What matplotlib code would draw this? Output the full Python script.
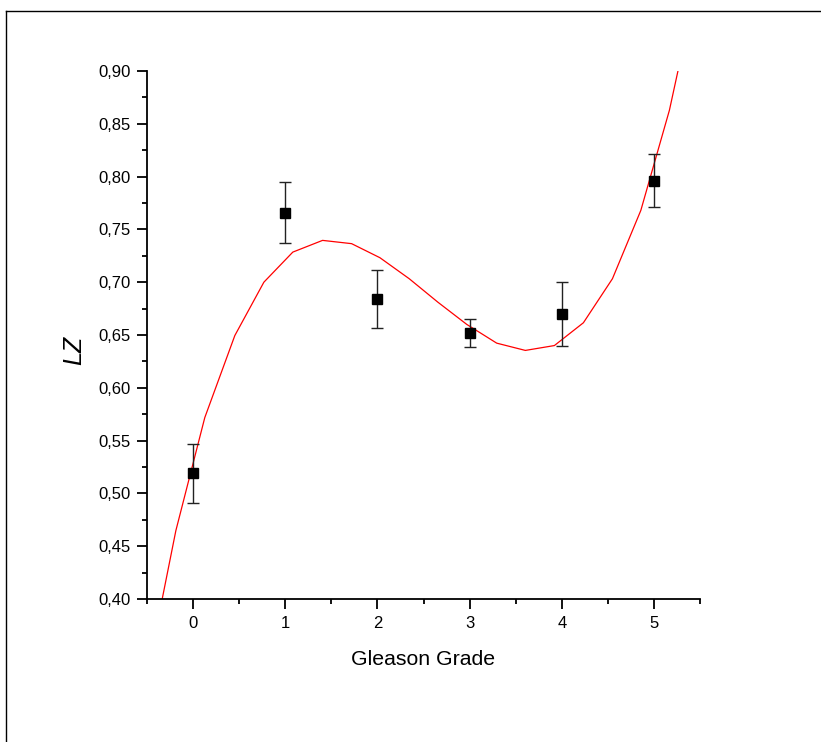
import matplotlib
matplotlib.use("Agg")
import matplotlib.pyplot as plt
from matplotlib.lines import Line2D
from matplotlib.ticker import MultipleLocator, FixedLocator

plt.rcParams['font.family'] = ['Liberation Sans', 'DejaVu Sans']

# Measured data points (Gleason grade vs LZ)
grade = [0, 1, 2, 3, 4, 5]
lz = [0.519, 0.766, 0.684, 0.652, 0.670, 0.796]
lz_err = [0.028, 0.029, 0.0275, 0.013, 0.030, 0.025]

# Fitted curve vertices
fit_x = [-0.5, -0.187, 0.127, 0.453, 0.768, 1.082, 1.405, 1.72, 2.027, 2.345,
         2.657, 2.97, 3.294, 3.605, 3.92, 4.235, 4.55, 4.858, 5.168, 5.485]
fit_y = [0.328, 0.4647, 0.5718, 0.6495, 0.700, 0.7285, 0.7396, 0.7365, 0.7232, 0.7033,
         0.681, 0.660, 0.6423, 0.6354, 0.640, 0.6616, 0.7033, 0.768, 0.8628, 0.99]

xticks = [0, 1, 2, 3, 4, 5]
yticks = [0.40, 0.45, 0.50, 0.55, 0.60, 0.65, 0.70, 0.75, 0.80, 0.85, 0.90]
ytick_labels = ['0,40', '0,45', '0,50', '0,55', '0,60', '0,65', '0,70', '0,75', '0,80', '0,85', '0,90']

fig = plt.figure(figsize=(8.21, 7.42), dpi=100)
ax = fig.add_axes([147/821, 143/742, 553/821, 528/742])

ax.plot(fit_x, fit_y, color='red', lw=0.9, zorder=2)
ax.errorbar(grade, lz, yerr=lz_err, fmt='s', color='black', ms=7, ecolor='#222222',
            elinewidth=1.0, capsize=4.5, capthick=1.0, zorder=3)

ax.set_xlim(-0.5, 5.5)
ax.set_ylim(0.40, 0.90)
ax.xaxis.set_major_locator(FixedLocator(xticks))
ax.xaxis.set_minor_locator(MultipleLocator(0.5))
ax.yaxis.set_major_locator(FixedLocator(yticks))
ax.set_yticklabels(ytick_labels)
ax.yaxis.set_minor_locator(MultipleLocator(0.025))

for s in ['top', 'right']:
    ax.spines[s].set_visible(False)
for s in ['left', 'bottom']:
    ax.spines[s].set_linewidth(1.3)

ax.tick_params(which='major', direction='out', length=7, width=1.3, labelsize=12, pad=5)
ax.tick_params(which='minor', direction='out', length=3.5, width=1.3)

ax.set_xlabel('Gleason Grade', fontsize=15.3, labelpad=14)
fig.text(74/821, 1 - 350/742, 'LZ', rotation=90, ha='center', va='center',
         fontsize=18, style='italic')

# outer frame lines (top and left)
fig.add_artist(Line2D([6/821, 1.0], [1 - 10.5/742, 1 - 10.5/742], color='black', lw=1.0,
                      transform=fig.transFigure))
fig.add_artist(Line2D([6/821, 6/821], [0.0, 1 - 10.5/742], color='black', lw=1.0,
                      transform=fig.transFigure))

fig.savefig('out.png', dpi=100)
